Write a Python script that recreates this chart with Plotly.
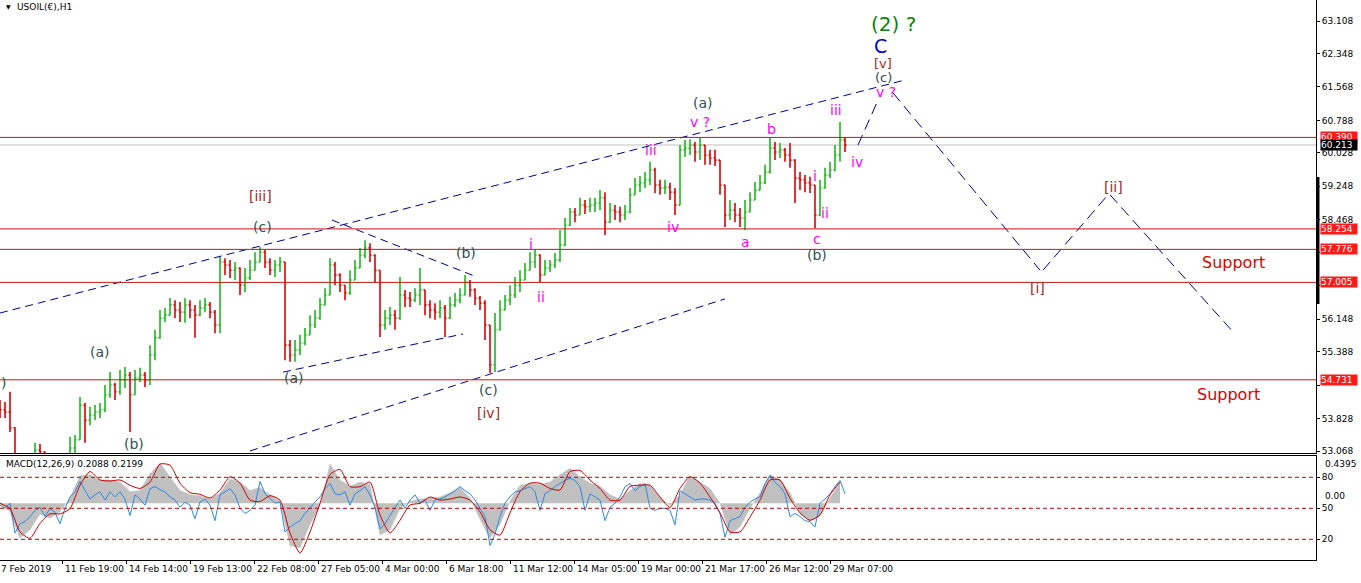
import plotly.graph_objects as go

# ---------------- price data (one bar = 5 hourly slots) ----------------
bar_hours = list(range(0, 850, 5))
close = [
    54.03, 53.98, 53.61, 52.97, 52.74, 52.67, 52.81, 53.09, 53.05, 52.81,
    52.67, 52.62, 52.72, 52.86, 53.14, 53.33, 54.14, 53.79, 53.91, 53.98,
    54.03, 54.38, 54.61, 54.45, 54.73, 54.84, 54.38, 54.77, 54.84, 54.73,
    55.31, 55.71, 56.17, 56.24, 56.48, 56.36, 56.31, 56.48, 56.36, 56.24,
    56.41, 56.48, 56.31, 56.01, 57.48, 57.41, 57.29, 57.34, 56.94, 57.11,
    57.29, 57.48, 57.71, 57.48, 57.29, 57.41, 57.48, 55.54, 55.31, 55.43,
    55.59, 55.78, 56.01, 56.17, 56.48, 56.71, 57.41, 57.18, 56.94, 56.76,
    57.06, 57.34, 57.64, 57.81, 57.64, 57.29, 56.01, 56.17, 56.24, 56.17,
    56.71, 56.64, 56.59, 56.71, 56.83, 56.48, 56.36, 56.31, 56.41, 56.17,
    56.48, 56.59, 56.71, 57.01, 56.83, 56.64, 56.52, 56.01, 55.08, 55.90,
    56.36, 56.59, 56.71, 56.94, 57.06, 57.29, 57.48, 57.64, 57.18, 57.34,
    57.41, 57.53, 57.88, 58.34, 58.65, 58.58, 58.81, 58.77, 58.81, 58.86,
    58.98, 58.41, 58.69, 58.65, 58.58, 58.65, 59.05, 59.28, 59.33, 59.40,
    59.63, 59.28, 59.21, 59.23, 59.11, 58.81, 60.10, 60.14, 60.21, 60.05,
    60.21, 59.98, 59.91, 59.86, 59.28, 58.58, 58.69, 58.58, 58.51, 58.65,
    58.93, 59.16, 59.33, 59.58, 60.14, 60.05, 60.10, 59.98, 59.86, 59.44,
    59.40, 59.33, 59.28, 58.58, 59.21, 59.51, 59.63, 59.98, 60.33, 60.21,
]
high = [
    54.26, 54.21, 54.45, 53.62, 52.97, 52.86, 52.97, 53.26, 53.23, 53.05,
    52.86, 52.81, 52.90, 52.97, 53.40, 53.44, 54.33, 54.19, 54.10, 54.14,
    54.19, 54.61, 54.91, 54.66, 54.96, 55.03, 54.91, 54.96, 55.01, 54.91,
    55.54, 55.90, 56.36, 56.41, 56.64, 56.59, 56.55, 56.64, 56.59, 56.48,
    56.59, 56.64, 56.55, 56.36, 57.60, 57.57, 57.53, 57.48, 57.36, 57.34,
    57.53, 57.71, 57.83, 57.76, 57.57, 57.53, 57.60, 57.48, 55.66, 55.66,
    55.78, 55.94, 56.24, 56.36, 56.64, 56.87, 57.57, 57.48, 57.22, 56.94,
    57.29, 57.53, 57.81, 57.99, 57.92, 57.66, 57.29, 56.36, 56.43, 56.36,
    57.13, 56.83, 56.78, 56.87, 57.34, 56.83, 56.59, 56.52, 56.59, 56.48,
    56.67, 56.76, 56.87, 57.18, 57.06, 56.87, 56.69, 56.59, 56.01, 56.29,
    56.59, 56.71, 56.94, 57.13, 57.29, 57.46, 57.71, 57.78, 57.66, 57.53,
    57.53, 57.69, 58.23, 58.51, 58.74, 58.74, 58.98, 58.93, 58.98, 58.98,
    59.16, 59.11, 58.86, 58.81, 58.77, 58.81, 59.21, 59.44, 59.49, 59.58,
    59.82, 59.68, 59.40, 59.40, 59.33, 59.21, 60.21, 60.33, 60.35, 60.28,
    60.38, 60.21, 60.10, 60.10, 59.86, 59.28, 58.93, 58.86, 58.74, 58.93,
    59.11, 59.35, 59.51, 59.75, 60.38, 60.28, 60.26, 60.14, 60.26, 59.88,
    59.58, 59.51, 59.47, 59.28, 59.40, 59.68, 59.82, 60.21, 60.75, 60.40,
]
low = [
    53.84, 53.84, 53.51, 52.81, 52.62, 52.51, 52.62, 52.80, 52.86, 52.67,
    52.51, 52.44, 52.53, 52.67, 52.85, 52.97, 53.33, 53.26, 53.67, 53.79,
    53.84, 53.98, 54.31, 54.26, 54.38, 54.54, 53.51, 54.38, 54.68, 54.56,
    54.61, 55.19, 55.69, 56.08, 56.24, 56.17, 56.08, 56.06, 56.17, 55.71,
    56.22, 56.31, 56.17, 55.82, 55.82, 57.18, 57.11, 57.06, 56.71, 56.78,
    57.06, 57.29, 57.48, 57.34, 57.18, 57.13, 57.25, 55.19, 55.15, 55.15,
    55.31, 55.54, 55.78, 55.94, 56.13, 56.48, 56.71, 56.94, 56.78, 56.59,
    56.71, 57.06, 57.34, 57.57, 57.48, 57.01, 55.73, 55.90, 56.01, 55.90,
    56.13, 56.43, 56.43, 56.55, 56.48, 56.24, 56.17, 56.13, 56.17, 55.73,
    56.15, 56.43, 56.52, 56.71, 56.67, 56.48, 56.36, 55.66, 54.89, 54.91,
    55.88, 56.36, 56.48, 56.64, 56.78, 57.06, 57.29, 57.34, 57.01, 57.18,
    57.25, 57.34, 57.48, 57.85, 58.32, 58.41, 58.58, 58.60, 58.65, 58.65,
    58.69, 58.11, 58.40, 58.46, 58.41, 58.46, 58.62, 59.05, 59.11, 59.21,
    59.28, 59.09, 59.05, 59.07, 58.93, 58.58, 58.81, 59.93, 59.98, 59.82,
    59.86, 59.75, 59.75, 59.72, 59.05, 58.30, 58.46, 58.41, 58.30, 58.23,
    58.65, 58.93, 59.16, 59.30, 59.55, 59.86, 59.91, 59.82, 59.68, 58.86,
    59.16, 59.11, 59.09, 58.27, 58.55, 59.19, 59.44, 59.60, 59.82, 60.05,
]
first_open = 54.10
open_ = [first_open] + close[:-1]

# ---------------- MACD window ----------------
macd_hours = list(range(0, 850, 10))
macd_hist = [
    -0.01, -0.08, -0.33, -0.25, -0.10, -0.14, -0.08, 0.05, 0.26, 0.27,
    0.22, 0.22, 0.20, 0.11, 0.12, 0.28, 0.38, 0.25, 0.12, 0.08,
    0.07, 0.04, 0.10, 0.23, 0.20, 0.12, 0.15, 0.08, 0.02, -0.40,
    -0.42, -0.20, -0.02, 0.37, 0.22, 0.16, 0.20, 0.18, -0.30, -0.25,
    -0.05, 0.02, 0.04, 0.05, 0.06, 0.10, 0.15, 0.05, -0.15, -0.33,
    -0.20, 0.02, 0.17, 0.19, 0.18, 0.20, 0.27, 0.33, 0.25, 0.19,
    0.16, 0.08, 0.04, 0.12, 0.19, 0.17, 0.06, -0.02, 0.08, 0.26,
    0.20, 0.14, 0.00, -0.30, -0.22, -0.05, 0.10, 0.27, 0.22, 0.10,
    -0.10, -0.17, -0.12, 0.05, 0.20,
]
macd_signal = [
    0.00, -0.05, -0.27, -0.33, -0.19, -0.10, -0.10, -0.05, 0.17, 0.30,
    0.22, 0.21, 0.22, 0.17, 0.14, 0.20, 0.37, 0.36, 0.19, 0.10,
    0.085, 0.05, 0.125, 0.25, 0.19, 0.03, 0.016, 0.072, 0.03, -0.28,
    -0.47, -0.27, 0.00, 0.27, 0.32, 0.157, 0.157, 0.20, -0.11, -0.28,
    -0.16, -0.016, 0.00, 0.06, 0.03, 0.04, 0.06, 0.03, -0.08, -0.25,
    -0.30, -0.09, 0.11, 0.19, 0.19, 0.14, 0.125, 0.30, 0.31, 0.22,
    0.14, 0.03, 0.03, 0.16, 0.17, 0.17, 0.06, -0.04, 0.14, 0.25,
    0.19, 0.06, -0.09, -0.27, -0.27, -0.13, 0.03, 0.22, 0.22, 0.047,
    -0.09, -0.16, -0.11, 0.08, 0.20,
]
osc_line = [
    53, 50, 55, 26, 35, 37, 42, 48, 51, 42,
    50, 46, 35, 50, 61, 66, 76, 68, 59, 63,
    66, 58, 66, 61, 66, 59, 43, 63, 59, 53,
    69, 71, 68, 66, 61, 58, 51, 56, 53, 40,
    56, 59, 53, 38, 63, 66, 69, 63, 50, 45,
    48, 53, 76, 64, 59, 55, 56, 27, 32, 35,
    38, 45, 51, 56, 61, 69, 74, 64, 63, 66,
    53, 64, 67, 71, 63, 51, 30, 35, 43, 50,
    58, 50, 58, 63, 55, 58, 48, 58, 59, 61,
    64, 67, 71, 67, 64, 58, 50, 42, 14, 25,
    42, 55, 61, 66, 67, 69, 71, 66, 48, 64,
    67, 71, 74, 77, 79, 77, 71, 48, 64, 61,
    58, 38, 51, 55, 61, 71, 74, 67, 71, 74,
    50, 48, 50, 50, 48, 34, 67, 64, 61, 58,
    59, 59, 58, 55, 45, 22, 38, 40, 42, 51,
    56, 59, 61, 74, 82, 75, 71, 64, 42, 45,
    42, 38, 37, 32, 55, 59, 64, 71, 77, 64,
]
osc_levels = [80, 50, 20]
macd_top, macd_bottom = 0.4395, -0.5366
macd_title = "MACD(12,26,9) 0.2088 0.2199"

assert len(close) == len(high) == len(low) == len(bar_hours), (len(close), len(high), len(low))
assert len(macd_hist) == len(macd_signal) == len(macd_hours), (len(macd_hist), len(macd_signal))
assert len(osc_line) == len(bar_hours), len(osc_line)

# ---------------- levels & axis labels ----------------
level_prices = [60.390, 58.254, 57.776, 57.005, 54.731]
last_price = 60.213
price_ticks = [63.108, 62.348, 61.568, 60.788, 60.028, 59.248, 58.468,
               57.708, 56.928, 56.148, 55.388, 54.608, 53.828, 53.068]
hidden_ticks = [57.708, 56.928, 54.608]   # covered by the level boxes in the original
date_tick_hours = [-2, 62, 126, 190, 254, 318, 382, 446, 510, 574, 638, 702, 766, 830]
date_labels = ["7 Feb 2019", "11 Feb 19:00", "14 Feb 14:00", "19 Feb 13:00",
               "22 Feb 08:00", "27 Feb 05:00", "4 Mar 00:00", "6 Mar 18:00",
               "11 Mar 12:00", "14 Mar 05:00", "19 Mar 00:00", "21 Mar 17:00",
               "26 Mar 12:00", "29 Mar 07:00"]

# ---------------- drawn trend lines (hour, price) ----------------
upper_channel_hours, upper_channel_prices = [0, 905], [56.29, 61.73]
lower_channel_hours, lower_channel_prices = [250, 725], [53.07, 56.62]
tri_low_hours, tri_low_prices = [283, 463], [54.91, 55.80]
tri_high_hours, tri_high_prices = [332, 477], [58.46, 57.13]
proj_hours = [858, 878, None, 893, 1040, None, 1043, 1108, None, 1110, 1233]
proj_prices = [60.21, 61.26, None, 61.43, 57.29, None, 57.29, 59.05, None, 59.05, 55.85]

# ---------------- wave labels ----------------
SLATE, MAG, BROWN = "#2f4f4f", "#ff00ff", "#a52a2a"
GREEN, BLUE, RED = "#0a820a", "#0000c8", "#e00000"
wave_text = [")", "(a)", "(b)", "[iii]", "(c)", "(a)", "(b)", "(c)", "[iv]",
             "i", "ii", "iii", "iv", "v ?", "(a)", "a", "b", "i", "ii", "c", "(b)",
             "iii", "iv", "v ?", "(c)", "[v]", "C", "(2) ?", "[i]", "[ii]",
             "Support", "Support"]
wave_hour = [3, 100, 134, 260, 262, 294, 466, 488, 488,
             531, 541, 651, 673, 700, 703, 745, 771, 815, 825, 817, 817,
             836, 857, 886, 883, 883, 880, 893, 1037, 1113,
             1233, 1228]
wave_price = [54.66, 55.38, 53.23, 59.02, 58.30, 54.77, 57.69, 54.49, 53.95,
              57.90, 56.66, 60.10, 58.30, 60.75, 61.19, 57.95, 60.59, 59.49, 58.62, 58.02, 57.64,
              61.03, 59.82, 61.44, 61.78, 62.12, 62.52, 63.04, 56.87, 59.23,
              57.46, 54.38]
wave_color = [SLATE, SLATE, SLATE, BROWN, SLATE, SLATE, SLATE, SLATE, BROWN,
              MAG, MAG, MAG, MAG, MAG, SLATE, MAG, MAG, MAG, MAG, MAG, SLATE,
              MAG, MAG, MAG, SLATE, BROWN, BLUE, GREEN, BROWN, BROWN,
              RED, RED]
wave_size = [14] * 24 + [13, 13, 19, 20, 14, 14, 16, 16]

# ---------------- layout geometry ----------------
FIG_W, FIG_H = 1361, 583
PLOT_W, PLOT_H = 1316, 560
MAIN_BOTTOM, MACD_TOP = 453, 456
PX_PER_UNIT = 42.83
price_top = 63.108 + 21 / PX_PER_UNIT
price_bottom = price_top - MAIN_BOTTOM / PX_PER_UNIT

fig = go.Figure()

fig.add_trace(go.Ohlc(
    x=bar_hours, open=open_, high=high, low=low, close=close,
    increasing=dict(line=dict(color="#1cb81c", width=1.6)),
    decreasing=dict(line=dict(color="#e00000", width=1.6)),
    tickwidth=0.3, hoverinfo="skip", showlegend=False,
    xaxis="x", yaxis="y"))

navy = "#00008b"
for hx, py in [(upper_channel_hours, upper_channel_prices),
               (lower_channel_hours, lower_channel_prices),
               (tri_low_hours, tri_low_prices),
               (tri_high_hours, tri_high_prices)]:
    fig.add_trace(go.Scatter(x=hx, y=py, mode="lines", xaxis="x", yaxis="y",
                             line=dict(color=navy, width=1, dash="8px,5px"),
                             hoverinfo="skip", showlegend=False))
fig.add_trace(go.Scatter(x=proj_hours, y=proj_prices, mode="lines", xaxis="x", yaxis="y",
                         line=dict(color=navy, width=1, dash="11px,6px"),
                         connectgaps=False, hoverinfo="skip", showlegend=False))

# MACD histogram (grey), oscillator (blue), signal (red)
fig.add_trace(go.Scatter(x=macd_hours, y=macd_hist, mode="lines", fill="tozeroy",
                         fillcolor="#c0c0c0", line=dict(color="#c0c0c0", width=0.5),
                         xaxis="x2", yaxis="y2", hoverinfo="skip", showlegend=False))
fig.add_trace(go.Scatter(x=bar_hours, y=osc_line, mode="lines",
                         line=dict(color="#2a8ae6", width=1),
                         xaxis="x2", yaxis="y3", hoverinfo="skip", showlegend=False))
fig.add_trace(go.Scatter(x=macd_hours, y=macd_signal, mode="lines",
                         line=dict(color="#d00000", width=1, shape="spline", smoothing=0.6),
                         xaxis="x2", yaxis="y4", hoverinfo="skip", showlegend=False))

shapes = []
for lv in level_prices:
    shapes.append(dict(type="line", xref="paper", x0=0, x1=1, yref="y", y0=lv, y1=lv,
                       line=dict(color="#c81414", width=1), layer="above"))
shapes.append(dict(type="line", xref="paper", x0=0, x1=1, yref="y", y0=last_price, y1=last_price,
                   line=dict(color="#c0c0c0", width=1), layer="below"))
for lv in osc_levels:
    shapes.append(dict(type="line", xref="paper", x0=0, x1=1, yref="y3", y0=lv, y1=lv,
                       line=dict(color="#c00000", width=1, dash="4px,3px"), layer="above"))
# scroll marker on price scale
shapes.append(dict(type="line", xref="paper", x0=1.0015, x1=1.0015, yref="paper",
                   y0=1 - 304 / PLOT_H, y1=1 - 177 / PLOT_H,
                   line=dict(color="black", width=3)))

ann = []
for t, hx, py, c, s in zip(wave_text, wave_hour, wave_price, wave_color, wave_size):
    ann.append(dict(text=t, x=hx / PLOT_W, y=py, xref="paper", yref="y", showarrow=False,
                    font=dict(family="DejaVu Sans", size=s, color=c),
                    xanchor="center", yanchor="middle"))

label_x = 1320 / PLOT_W
for lv in level_prices:
    ann.append(dict(text=f"{lv:.3f}", x=label_x, y=lv, xref="paper", yref="y",
                    showarrow=False, xanchor="left", yanchor="middle",
                    bgcolor="#ff1a1a", borderpad=0, width=36, align="left",
                    font=dict(family="DejaVu Sans", size=9, color="white")))
ann.append(dict(text=f"{last_price:.3f}", x=label_x, y=last_price, xref="paper", yref="y",
                showarrow=False, xanchor="left", yanchor="middle",
                bgcolor="black", borderpad=0, width=36, align="left",
                font=dict(family="DejaVu Sans", size=9, color="white")))

# MACD scale labels
for txt, val, anc in [(f"{macd_top:.4f}", macd_top, "top"), ("0.00", 0.0, "bottom"),
                      (f"{macd_bottom:.4f}", macd_bottom, "bottom")]:
    ann.append(dict(text=txt, x=label_x + 3 / PLOT_W, y=val, xref="paper", yref="y2",
                    showarrow=False, xanchor="left", yanchor=anc,
                    font=dict(family="DejaVu Sans", size=9, color="black")))

# date labels
for hx, txt in zip(date_tick_hours, date_labels):
    ann.append(dict(text=txt, x=(hx + 1) / PLOT_W, y=-(569 - PLOT_H) / PLOT_H,
                    xref="paper", yref="paper",
                    showarrow=False, xanchor="left", yanchor="middle",
                    font=dict(family="DejaVu Sans", size=9, color="black")))

# titles
ann.append(dict(text="▼", x=4 / PLOT_W, y=1 - 7 / PLOT_H, xref="paper", yref="paper",
                showarrow=False, xanchor="left", yanchor="middle",
                font=dict(family="DejaVu Sans", size=6, color="black")))
ann.append(dict(text="USOIL(€),H1", x=15 / PLOT_W, y=1 - 7 / PLOT_H, xref="paper", yref="paper",
                showarrow=False, xanchor="left", yanchor="middle",
                font=dict(family="DejaVu Sans", size=9, color="black")))
ann.append(dict(text=macd_title, x=4 / PLOT_W, y=1 - 464 / PLOT_H, xref="paper", yref="paper",
                showarrow=False, xanchor="left", yanchor="middle",
                font=dict(family="DejaVu Sans", size=9, color="black")))

macd_span = (macd_top - 0) / (503.3 - 456.7)
macd_rng = [-(PLOT_H - 503.3) * macd_span, (503.3 - MACD_TOP) * macd_span]
osc_span = 30 / 31.0
osc_rng = [20 - (PLOT_H - 539.3) * osc_span, 80 + (477.3 - MACD_TOP) * osc_span]

fig.update_layout(
    width=FIG_W, height=FIG_H,
    margin=dict(l=0, r=FIG_W - PLOT_W, t=0, b=FIG_H - PLOT_H),
    paper_bgcolor="white", plot_bgcolor="white",
    showlegend=False, hovermode=False,
    font=dict(family="DejaVu Sans", size=9, color="black"),
    xaxis=dict(domain=[0, 1], range=[0, PLOT_W], anchor="y", showline=True,
               linecolor="black", linewidth=1, showticklabels=False, ticks="",
               showgrid=False, zeroline=False, rangeslider=dict(visible=False)),
    yaxis=dict(domain=[1 - MAIN_BOTTOM / PLOT_H, 1], range=[price_bottom, price_top],
               side="right", anchor="x", showline=True, linecolor="black",
               ticks="outside", ticklen=3, tickcolor="black",
               tickvals=price_ticks,
               ticktext=["" if v in hidden_ticks else f"{v:.3f}" for v in price_ticks],
               showgrid=False, zeroline=False),
    xaxis2=dict(domain=[0, 1], range=[0, PLOT_W], anchor="y2", matches="x",
                showline=True, mirror=True, linecolor="black",
                tickvals=date_tick_hours[1:], ticks="outside", ticklen=3,
                tickcolor="black", showticklabels=False, showgrid=False, zeroline=False),
    yaxis2=dict(domain=[0, (PLOT_H - MACD_TOP) / PLOT_H], range=macd_rng, side="right",
                anchor="x2", showline=True, linecolor="black", showticklabels=False,
                ticks="", showgrid=False, zeroline=False),
    yaxis3=dict(overlaying="y2", range=osc_rng, side="right", anchor="x2",
                tickvals=osc_levels, ticks="outside", ticklen=3, tickcolor="black",
                showgrid=False, zeroline=False, showline=False),
    yaxis4=dict(overlaying="y2", range=macd_rng, side="right", anchor="x2",
                visible=False, showgrid=False, zeroline=False),
    shapes=shapes, annotations=ann,
)

fig.write_html("out.html", config={"displayModeBar": False},
               post_script="document.body.style.margin='0';document.body.style.padding='0';")
